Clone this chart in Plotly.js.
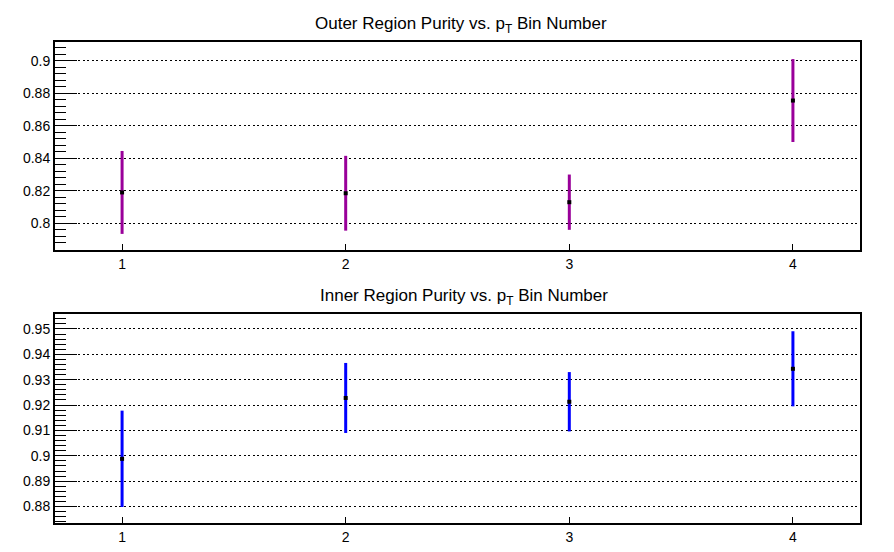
<!DOCTYPE html>
<html>
<head>
<meta charset="utf-8">
<script src="https://cdn.plot.ly/plotly-3.0.1.min.js"></script>
<style>html,body{margin:0;padding:0;background:#fff;}#chart{width:894px;height:552px;}</style>
</head>
<body>
<div id="chart"></div>
<script>
// Data
const ptBins = [1, 2, 3, 4];
const outerPurity = [0.819, 0.8185, 0.813, 0.8755];
const outerError = [0.0255, 0.023, 0.017, 0.0255];
const innerPurity = [0.8988, 0.9228, 0.9213, 0.9343];
const innerError = [0.019, 0.0138, 0.0117, 0.0148];
const outerTitle = "Outer Region Purity vs. p<sub>T</sub> Bin Number";
const innerTitle = "Inner Region Purity vs. p<sub>T</sub> Bin Number";

const W = 894, H = 552;
const fx = v => v / W;
const fy = v => 1 - v / H;

const font = {family: "Liberation Sans, Arial, sans-serif", size: 14, color: "#000"};
const titleFont = {family: "Liberation Sans, Arial, sans-serif", size: 17, color: "#000"};

const traces = [
  {
    x: ptBins, y: outerPurity, xaxis: "x", yaxis: "y", type: "scatter", mode: "markers",
    marker: {symbol: "square", size: 4, color: "#000"},
    error_y: {type: "data", array: outerError, visible: true, color: "#990099", thickness: 3, width: 0},
    hoverinfo: "x+y"
  },
  {
    x: ptBins, y: innerPurity, xaxis: "x2", yaxis: "y2", type: "scatter", mode: "markers",
    marker: {symbol: "square", size: 4, color: "#000"},
    error_y: {type: "data", array: innerError, visible: true, color: "#0000ff", thickness: 3, width: 0},
    hoverinfo: "x+y"
  }
];

const xCommon = {
  range: [0.7, 4.3], tickvals: ptBins, ticktext: ptBins.map(String),
  ticks: "inside", ticklen: 6, tickwidth: 1, tickcolor: "#000",
  showline: true, linewidth: 2, linecolor: "#000", mirror: true,
  showgrid: false, zeroline: false, tickfont: font, fixedrange: true
};
const yCommon = {
  ticks: "inside", ticklen: 22, tickwidth: 1, tickcolor: "#000",
  showline: true, linewidth: 2, linecolor: "#000", mirror: true,
  showgrid: true, gridcolor: "#000", gridwidth: 1, griddash: "2px,2.6px",
  zeroline: false, tickfont: font, fixedrange: true
};

const layout = {
  width: W, height: H,
  margin: {l: 0, r: 0, t: 0, b: 0},
  paper_bgcolor: "#fff", plot_bgcolor: "#fff",
  showlegend: false,
  font: font,
  xaxis: Object.assign({}, xCommon, {domain: [fx(55), fx(860)], anchor: "y"}),
  yaxis: Object.assign({}, yCommon, {
    domain: [fy(250), fy(42)], anchor: "x",
    range: [0.7836, 0.9115], tick0: 0.8, dtick: 0.02,
    minor: {dtick: 0.004, ticklen: 11, tickcolor: "#000", ticks: "inside", showgrid: false}
  }),
  xaxis2: Object.assign({}, xCommon, {domain: [fx(55), fx(860)], anchor: "y2"}),
  yaxis2: Object.assign({}, yCommon, {
    domain: [fy(523), fy(314)], anchor: "x2",
    range: [0.8735, 0.9559], tick0: 0.88, dtick: 0.01,
    minor: {dtick: 0.002, ticklen: 11, tickcolor: "#000", ticks: "inside", showgrid: false}
  }),
  annotations: [
    {text: outerTitle, x: fx(461), y: fy(25), xref: "paper", yref: "paper",
     xanchor: "center", yanchor: "middle", showarrow: false, font: titleFont},
    {text: innerTitle, x: fx(464), y: fy(297), xref: "paper", yref: "paper",
     xanchor: "center", yanchor: "middle", showarrow: false, font: titleFont}
  ]
};

Plotly.newPlot("chart", traces, layout, {displayModeBar: false, staticPlot: true});
</script>
</body>
</html>
